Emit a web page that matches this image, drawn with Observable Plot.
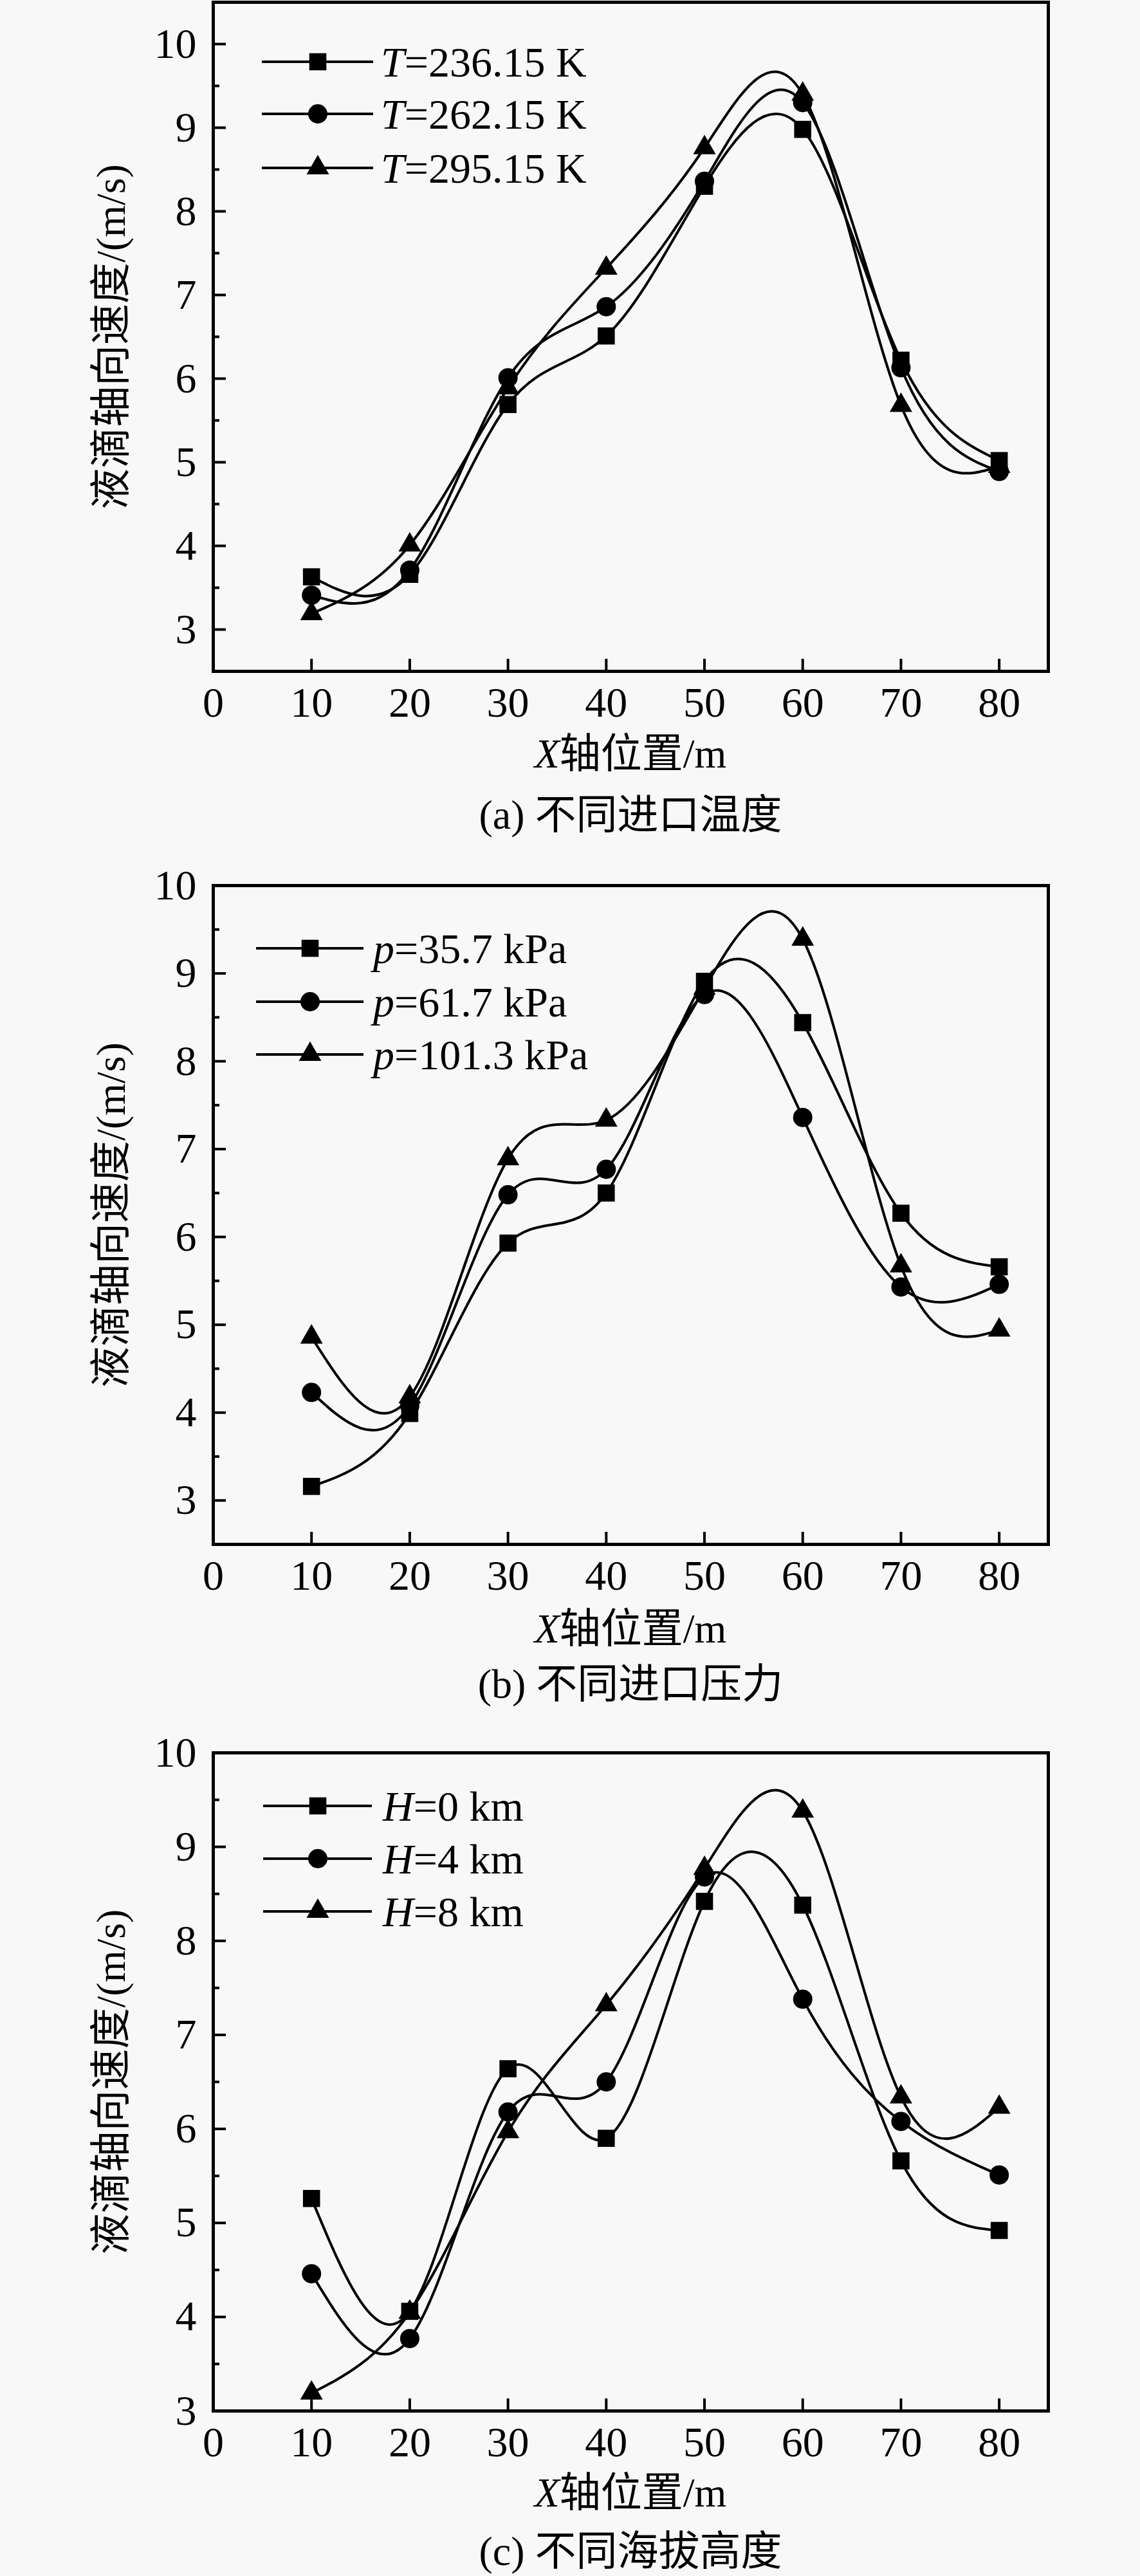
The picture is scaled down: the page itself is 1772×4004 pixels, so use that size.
<!DOCTYPE html>
<html><head><meta charset="utf-8">
<script src="https://cdn.jsdelivr.net/npm/d3@7"></script>
<script src="https://cdn.jsdelivr.net/npm/@observablehq/plot@0.6"></script>
<style>
html,body{margin:0;padding:0;background:#f8f8f8;overflow:hidden;}
.panel{position:relative;width:1772px;overflow:hidden;}
.panel > svg{display:block}
.lbl{position:absolute;font-family:"Liberation Serif","Noto Sans CJK SC",serif;font-size:64px;color:#000;white-space:nowrap;transform:translate(-50%,-50%);line-height:1;}
.leg{position:absolute;left:0;top:0;pointer-events:none;}
</style></head><body><div id="root"></div>
<script>
// ---- data ----
const xPos = [10, 20, 30, 40, 50, 60, 70, 80];
const xLabels = [0, 10, 20, 30, 40, 50, 60, 70, 80];
const xMajor = [10, 20, 30, 40, 50, 60, 70, 80];
const yMajor = [3, 4, 5, 6, 7, 8, 9, 10];
const yMinor = [3.5, 4.5, 5.5, 6.5, 7.5, 8.5, 9.5];

// (a) different inlet temperature
const aNames = ["=236.15 K", "=262.15 K", "=295.15 K"];
const aT236 = [3.63, 3.66, 5.69, 6.51, 8.30, 8.98, 6.22, 5.02];
const aT262 = [3.41, 3.71, 6.01, 6.86, 8.36, 9.30, 6.13, 4.89];
const aT295 = [3.19, 4.01, 5.89, 7.32, 8.76, 9.40, 5.68, 4.95];

// (b) different inlet pressure
const bNames = ["=35.7 kPa", "=61.7 kPa", "=101.3 kPa"];
const bP35 = [3.16, 3.99, 5.93, 6.50, 8.91, 8.44, 6.27, 5.66];
const bP61 = [4.23, 4.08, 6.48, 6.77, 8.76, 7.36, 5.43, 5.46];
const bP101 = [4.86, 4.18, 6.89, 7.33, 8.83, 9.39, 5.67, 4.94];

// (c) different altitude
const cNames = ["=0 km", "=4 km", "=8 km"];
const cH0 = [5.26, 4.06, 6.64, 5.90, 8.42, 8.38, 5.66, 4.92];
const cH4 = [4.46, 3.77, 6.18, 6.50, 8.68, 7.38, 6.08, 5.51];
const cH8 = [3.19, 4.05, 5.97, 7.32, 8.77, 9.38, 6.34, 6.23];

const yTitle = "液滴轴向速度/(m/s)";
const xTitleRest = "轴位置/m";
const captions = ["(a) 不同进口温度", "(b) 不同进口压力", "(c) 不同海拔高度"];

const FONT = '"Liberation Serif","Noto Sans CJK SC",serif';
const symbols = ["square", "circle", "triangle"];
const symR = [15, 15, 13];

function panel(cfg) {
  const {top, height, frameTop, frameBottom, yDomain, series, names, varName,
         legRows, legLine, legMark, legText, xTitleDy, capDy, caption} = cfg;
  const marginTop = frameTop - top;
  const marginBottom = top + height - frameBottom;
  const data = series.flatMap((s, i) => s.map((v, j) => ({x: xPos[j], y: v, k: i})));
  const majors = yMajor.filter(t => t >= yDomain[0] && t <= yDomain[1]);
  const marks = [
    ...series.map((s, i) => Plot.line(data.filter(d => d.k === i), {x: "x", y: "y", curve: "natural", stroke: "black", strokeWidth: 4})),
    ...series.map((s, i) => Plot.dot(data.filter(d => d.k === i), {x: "x", y: "y", symbol: symbols[i], r: symR[i], fill: "black", stroke: "none"})),
    Plot.axisY({ticks: majors, tickSize: 0, tickPadding: 26, tickFormat: d => String(d), label: null, fontSize: 66}),
    Plot.axisY({ticks: majors, tickSize: -20, tickFormat: () => "", strokeWidth: 4, label: null}),
    Plot.axisY({ticks: yMinor, tickSize: -10, tickFormat: () => "", strokeWidth: 4, label: null}),
    Plot.axisX({ticks: xLabels, tickSize: 0, tickPadding: 24, tickFormat: d => String(d), label: null, fontSize: 66}),
    Plot.axisX({ticks: xMajor, tickSize: -19, tickFormat: () => "", strokeWidth: 4, label: null}),
    Plot.text([yTitle], {frameAnchor: "left", textAnchor: "middle", dx: -158, rotate: -90, fontSize: 64, fill: "black"}),
    Plot.frame({stroke: "black", strokeWidth: 5})
  ];
  const chart = Plot.plot({
    width: 1772, height,
    marginLeft: 331, marginRight: 143, marginTop, marginBottom,
    x: {domain: [0, 85]},
    y: {domain: yDomain},
    style: {background: "transparent", fontFamily: FONT, fontSize: "66px", color: "black", overflow: "visible"},
    marks
  });
  const div = document.createElement("div");
  div.className = "panel";
  div.style.height = height + "px";
  div.appendChild(chart);

  // legend overlay
  const ft = frameTop - top;
  const leg = d3.create("svg").attr("class", "leg").attr("width", 1772).attr("height", height);
  names.forEach((n, i) => {
    const y = ft + legRows[i];
    leg.append("line").attr("x1", legLine[0]).attr("x2", legLine[1]).attr("y1", y).attr("y2", y)
      .attr("stroke", "black").attr("stroke-width", 4);
    const sym = {square: d3.symbolSquare, circle: d3.symbolCircle, triangle: d3.symbolTriangle}[symbols[i]];
    leg.append("path").attr("d", d3.symbol(sym, Math.PI * symR[i] * symR[i])())
      .attr("transform", `translate(${legMark},${y})`).attr("fill", "black");
    const t = leg.append("text").attr("x", legText).attr("y", y).attr("dy", "0.35em")
      .attr("font-family", FONT).attr("font-size", 66).attr("fill", "black");
    t.append("tspan").attr("font-style", "italic").text(varName);
    t.append("tspan").text(n);
  });
  div.appendChild(leg.node());

  const fb = frameBottom - top;
  const xt = document.createElement("div");
  xt.className = "lbl";
  xt.style.left = "980px"; xt.style.top = (fb + xTitleDy) + "px";
  xt.innerHTML = "<i>X</i>" + xTitleRest;
  div.appendChild(xt);
  const cp = document.createElement("div");
  cp.className = "lbl";
  cp.style.left = "980px"; cp.style.top = (fb + capDy) + "px";
  cp.textContent = caption;
  div.appendChild(cp);
  document.getElementById("root").appendChild(div);
}

panel({top: 0, height: 1340, frameTop: 3, frameBottom: 1043, yDomain: [2.5, 10.5],
  series: [aT236, aT262, aT295], names: aNames, varName: "T",
  legRows: [93, 174, 258], legLine: [407, 580], legMark: 494, legText: 592,
  xTitleDy: 129, capDy: 224, caption: captions[0]});
panel({top: 1340, height: 1340, frameTop: 1376, frameBottom: 2400, yDomain: [2.5, 10],
  series: [bP35, bP61, bP101], names: bNames, varName: "p",
  legRows: [98, 181, 263], legLine: [398, 565], legMark: 482, legText: 580,
  xTitleDy: 132, capDy: 218, caption: captions[1]});
panel({top: 2680, height: 1324, frameTop: 2724, frameBottom: 3747, yDomain: [3, 10],
  series: [cH0, cH4, cH8], names: cNames, varName: "H",
  legRows: [83, 165, 247], legLine: [409, 578], legMark: 494, legText: 595,
  xTitleDy: 128, capDy: 219, caption: captions[2]});
</script></body></html>
